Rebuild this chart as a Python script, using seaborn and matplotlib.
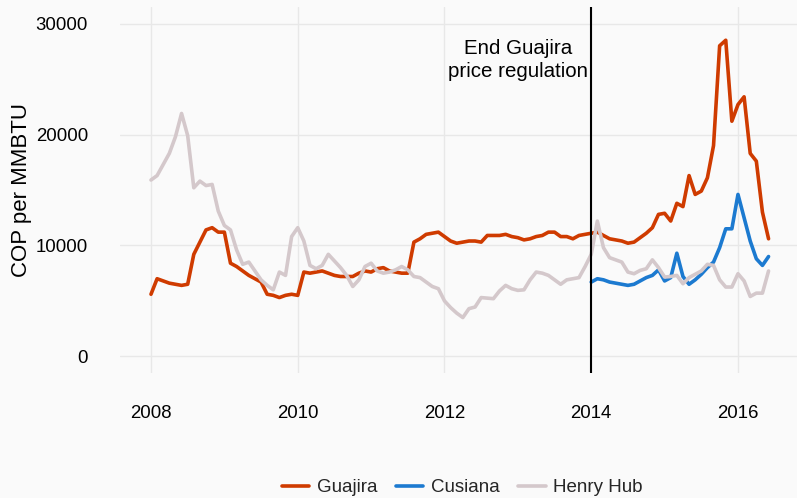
import numpy as np
import pandas as pd
import matplotlib
matplotlib.use("Agg")
import matplotlib.pyplot as plt
import seaborn as sns

# Monthly prices, COP per MMBTU, Jan 2008 - Jun 2016
start_year = 2008
guajira = [5600, 7000, 6800, 6600, 6500, 6400, 6500, 9200, 10300, 11400,
           11600, 11200, 11200, 8400, 8100, 7700, 7300, 7000, 6700, 5600,
           5500, 5300, 5500, 5600, 5500, 7600, 7500, 7600, 7700, 7500,
           7300, 7200, 7200, 7200, 7500, 7700, 7600, 7900, 8000, 7700,
           7600, 7500, 7500, 10300, 10600, 11000, 11100, 11200, 10800, 10400,
           10200, 10300, 10400, 10400, 10300, 10900, 10900, 10900, 11000, 10800,
           10700, 10500, 10600, 10800, 10900, 11200, 11200, 10800, 10800, 10600,
           10900, 11000, 11100, 11200, 10900, 10600, 10500, 10400, 10200, 10300,
           10700, 11100, 11600, 12800, 12900, 12200, 13800, 13500, 16300, 14600,
           14900, 16100, 19000, 28000, 28500, 21200, 22700, 23400, 18300, 17600,
           13000, 10600]

# Cusiana only from Jan 2014
cusiana_start = 72
cusiana = [6700, 7000, 6900, 6700, 6600, 6500, 6400, 6500, 6800, 7100,
           7300, 7800, 6800, 7100, 9300, 7200, 6500, 6900, 7400, 8000,
           8500, 9800, 11500, 11500, 14600, 12500, 10400, 8800, 8200, 9000]

henry_hub = [15900, 16300, 17300, 18300, 19800, 21900, 19900, 15200, 15800, 15400,
             15500, 13100, 11800, 11400, 9600, 8300, 8500, 7700, 6900, 6400,
             6000, 7600, 7300, 10800, 11600, 10400, 8200, 7900, 8200, 9200,
             8600, 8000, 7300, 6300, 6900, 8100, 8400, 7700, 7500, 7600,
             7800, 8100, 7800, 7200, 7100, 6700, 6300, 6100, 5000, 4400,
             3900, 3500, 4300, 4450, 5300, 5250, 5200, 5900, 6400, 6100,
             5950, 6000, 6900, 7600, 7500, 7300, 6900, 6500, 6900, 7000,
             7100, 8100, 9200, 12200, 9800, 8900, 8700, 8500, 7600, 7450,
             7750, 7900, 8700, 8000, 7150, 7200, 7300, 6550, 7100, 7400,
             7700, 8300, 8200, 6900, 6250, 6250, 7450, 6800, 5400, 5700,
             5700, 7700]

series_names = ["Guajira", "Cusiana", "Henry Hub"]
colors = ["#CF3B00", "#1C7AD0", "#D4C8CB"]
year_ticks = [2008, 2010, 2012, 2014, 2016]
price_ticks = [0, 10000, 20000, 30000]
regulation_end = 2014

months = start_year + np.arange(len(guajira)) / 12
df = pd.concat([
    pd.DataFrame({"year": months, "price": guajira, "series": "Guajira"}),
    pd.DataFrame({"year": months[cusiana_start:], "price": cusiana, "series": "Cusiana"}),
    pd.DataFrame({"year": months, "price": henry_hub, "series": "Henry Hub"}),
])

sns.set_theme(style="whitegrid")
plt.rcParams["font.family"] = ["Liberation Sans", "DejaVu Sans"]

bg = "#FAFAFA"
fig = plt.figure(figsize=(7.97, 4.98), dpi=100, facecolor=bg)
ax = fig.add_axes([0.1506, 0.251, 0.849, 0.735], facecolor=bg)

sns.lineplot(data=df, x="year", y="price", hue="series", hue_order=series_names,
             palette=colors, linewidth=2.6, ax=ax)

ax.axvline(regulation_end, color="black", linewidth=1.5, zorder=5)
ax.text(2013.0, 26700, "End Guajira\nprice regulation", ha="center", va="center",
        fontsize=14.8, color="black", linespacing=1.3)

ax.set_xlim(2007.578, 2016.80)
ax.set_ylim(-1500, 31500)
ax.set_xticks(year_ticks)
ax.set_xticklabels([str(y) for y in year_ticks])
ax.set_yticks(price_ticks)
ax.set_yticklabels([str(p) for p in price_ticks])
ax.tick_params(length=0, pad=23, labelsize=13.4, labelcolor="black")
ax.grid(True, color="#E8E8E8", linewidth=1.0)
for s in ax.spines.values():
    s.set_visible(False)
ax.set_xlabel("")
ax.set_ylabel("COP per MMBTU", fontsize=16, color="black", labelpad=3)

sns.move_legend(ax, "center", bbox_to_anchor=(0.506, -0.314), ncol=3, title=None,
                frameon=False, fontsize=13.5, handlelength=1.45, handletextpad=0.4,
                columnspacing=1.0)

fig.savefig("out.png", dpi=100, facecolor=bg)
